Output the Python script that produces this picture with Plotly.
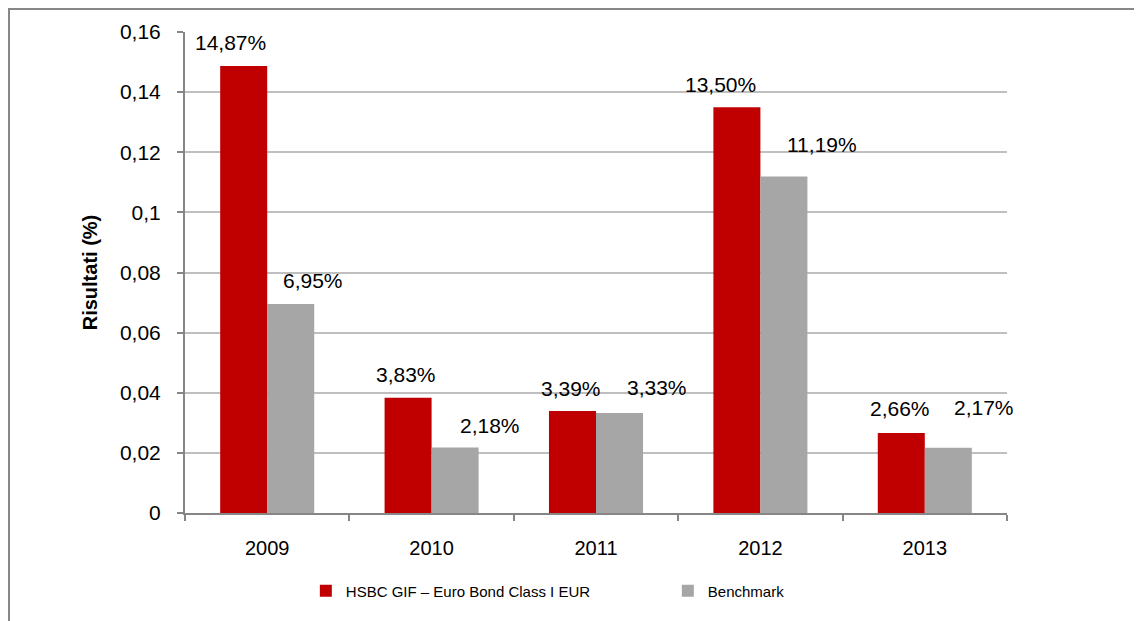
import plotly.graph_objects as go

anni = ["2009", "2010", "2011", "2012", "2013"]
fondo = [0.1487, 0.0383, 0.0339, 0.1350, 0.0266]
benchmark = [0.0695, 0.0218, 0.0333, 0.1119, 0.0217]
fondo_lbl = ["14,87%", "3,83%", "3,39%", "13,50%", "2,66%"]
bench_lbl = ["6,95%", "2,18%", "3,33%", "11,19%", "2,17%"]
y_ticks = [0, 0.02, 0.04, 0.06, 0.08, 0.1, 0.12, 0.14, 0.16]
y_ticktext = ["0", "0,02", "0,04", "0,06", "0,08", "0,1", "0,12", "0,14", "0,16"]

# spostamenti manuali delle etichette (px), come nel grafico Excel
fondo_dx = [-37, -26, -25, -40, -25]
fondo_dy = [23, 23, 23, 23, 25]
bench_dx = [46, 58, 61, 62, 59]
bench_dy = [24, 22, 25, 32, 40]

FONT = "Liberation Sans, Arial, sans-serif"
ROSSO = "#C00000"
GRIGIO = "#A6A6A6"

fig = go.Figure()
fig.add_trace(go.Bar(x=anni, y=fondo, name="HSBC GIF \u2013 Euro Bond Class I EUR",
                     marker=dict(color=ROSSO, line=dict(width=0))))
fig.add_trace(go.Bar(x=anni, y=benchmark, name="Benchmark",
                     marker=dict(color=GRIGIO, line=dict(width=0))))

# su asse categorico le annotazioni vogliono l'indice della categoria
for i in range(len(anni)):
    fig.add_annotation(x=i, y=fondo[i], text=fondo_lbl[i], showarrow=False,
                       xref="x", yref="y",
                       xshift=fondo_dx[i], yshift=fondo_dy[i],
                       font=dict(size=21, color="black", family=FONT))
    fig.add_annotation(x=i, y=benchmark[i], text=bench_lbl[i], showarrow=False,
                       xref="x", yref="y",
                       xshift=bench_dx[i], yshift=bench_dy[i],
                       font=dict(size=21, color="black", family=FONT))

# cornice esterna (la pagina ha 8px di margine nel body)
fig.add_shape(type="rect", xref="paper", yref="paper",
              x0=-0.2141, x1=1.25, y0=-0.35, y1=1.0478,
              line=dict(color="#878787", width=2))

fig.update_layout(
    width=1134, height=613,
    margin=dict(l=177, r=135, t=24, b=108),
    paper_bgcolor="white", plot_bgcolor="white",
    barmode="group", bargap=0.428, bargroupgap=0,
    separators=",.",
    font=dict(family=FONT, size=21, color="black"),
    showlegend=True,
    legend=dict(orientation="h", x=0.147, xanchor="left", y=-0.162, yanchor="middle",
                entrywidth=317, entrywidthmode="pixels",
                font=dict(size=15, family=FONT, color="black"),
                bgcolor="rgba(0,0,0,0)"),
)
fig.update_xaxes(type="category", categoryorder="array", categoryarray=anni,
                 range=[-0.5, 4.5], autorange=False,
                 showline=True, linecolor="#868686", linewidth=2,
                 ticks="outside", tickson="boundaries", ticklen=6, tickcolor="#868686",
                 tickwidth=2, ticklabelstandoff=16, showgrid=False, tickangle=0,
                 tickfont=dict(size=20))
fig.update_yaxes(range=[0, 0.16], autorange=False, tickvals=y_ticks, ticktext=y_ticktext,
                 showline=True, linecolor="#868686", linewidth=2,
                 ticks="outside", ticklen=6, tickcolor="#868686", tickwidth=2,
                 ticklabelstandoff=12,
                 showgrid=True, gridcolor="#BFBFBF", gridwidth=2, zeroline=False,
                 tickfont=dict(size=21),
                 title=dict(text="<b>Risultati (%)</b>", font=dict(size=20), standoff=17))

fig.write_html("out.html")
